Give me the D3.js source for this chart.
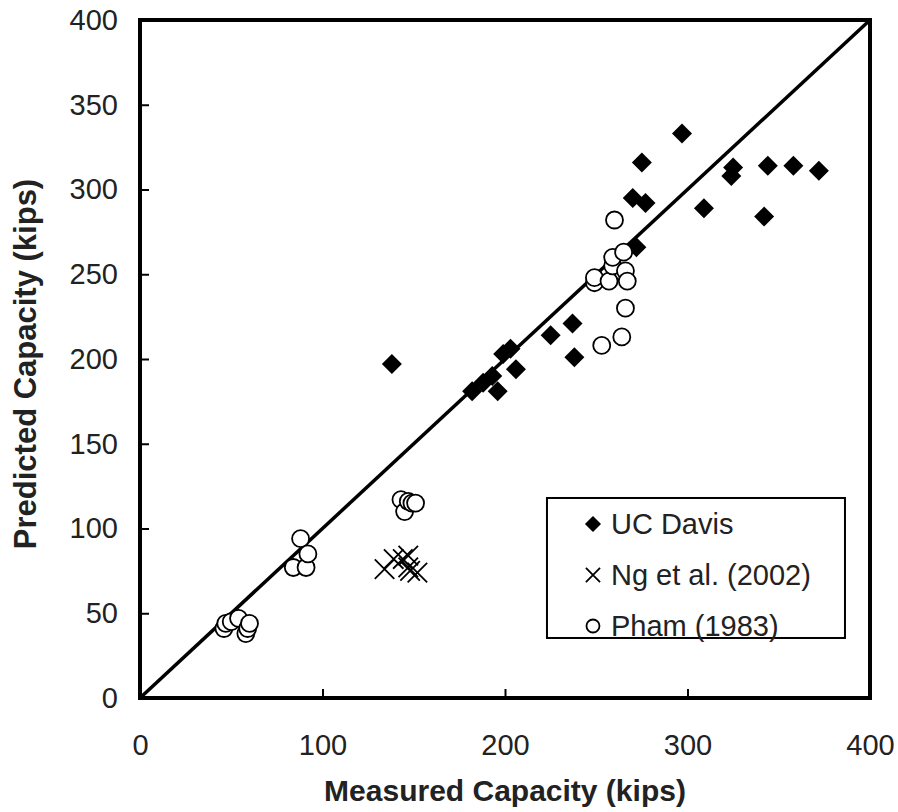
<!DOCTYPE html>
<html>
<head>
<meta charset="utf-8">
<script src="https://cdn.jsdelivr.net/npm/d3@7"></script>
<style>
  body { margin: 0; background: #fff; }
  text { font-family: "Liberation Sans", Arial, sans-serif; fill: #222; }
</style>
</head>
<body>
<div id="chart"></div>
<script>
// UC Davis specimens [measured, predicted]
const ucDavis = [
    [138, 197], [182, 181], [188, 186], [193, 190], [196, 181], [199, 203],
    [203, 206], [206, 194], [225, 214], [237, 221], [238, 201],
    [270, 295], [272, 266], [275, 316], [277, 292], [297, 333],
    [309, 289], [324, 308], [325, 313], [342, 284], [344, 314],
    [358, 314], [372, 311]
];

// Ng et al. (2002)
const ngEtAl = [
    [134, 76], [139, 82], [144, 82], [147, 84], [147, 77], [148, 75], [152, 74]
];

// Pham (1983)
const pham = [
    [46, 41], [47, 44], [50, 45], [54, 47], [58, 38], [59, 41], [60, 44],
    [84, 77], [88, 94], [91, 77], [92, 85],
    [143, 117], [145, 110], [147, 116], [149, 115], [151, 115],
    [249, 245], [249, 248], [253, 208], [257, 246], [259, 255], [259, 260],
    [260, 282], [264, 213], [265, 263], [266, 230], [266, 252], [267, 246]
];

const xTicks = [0, 100, 200, 300, 400];
const yTicks = [0, 50, 100, 150, 200, 250, 300, 350, 400];

const legendItems = [
    { label: 'UC Davis', type: 'diamond' },
    { label: 'Ng et al. (2002)', type: 'cross' },
    { label: 'Pham (1983)', type: 'circle' }
];

const margin = { top: 20, right: 28, bottom: 114, left: 140 };
const width = 898, height = 812;
const plotW = width - margin.left - margin.right;
const plotH = height - margin.top - margin.bottom;

const svg = d3.select('#chart')
    .append('svg')
    .attr('width', width)
    .attr('height', height);

const g = svg.append('g')
    .attr('transform', `translate(${margin.left},${margin.top})`);

const x = d3.scaleLinear().domain([0, 400]).range([0, plotW]);
const y = d3.scaleLinear().domain([0, 400]).range([plotH, 0]);

// X shaped symbol
const symbolX = {
    draw(ctx, size) {
        const r = Math.sqrt(size) / 2;
        ctx.moveTo(-r, -r); ctx.lineTo(r, r);
        ctx.moveTo(r, -r); ctx.lineTo(-r, r);
    }
};

// Axes (ticks inside, labels drawn outside)
g.append('g')
    .attr('class', 'x-axis')
    .attr('transform', `translate(0,${plotH})`)
    .call(d3.axisBottom(x).tickValues(xTicks).tickSizeInner(-9).tickSizeOuter(0).tickPadding(36))
    .call(a => a.select('.domain').remove())
    .call(a => a.selectAll('line').attr('stroke', '#000').attr('stroke-width', 2))
    .call(a => a.selectAll('text').style('font-size', '29px').attr('fill', '#222'));

g.append('g')
    .attr('class', 'y-axis')
    .call(d3.axisLeft(y).tickValues(yTicks).tickSizeInner(-9).tickSizeOuter(0).tickPadding(22))
    .call(a => a.select('.domain').remove())
    .call(a => a.selectAll('line').attr('stroke', '#000').attr('stroke-width', 2))
    .call(a => a.selectAll('text').style('font-size', '29px').attr('fill', '#222'));

// Frame
g.append('rect')
    .attr('x', 0).attr('y', 0)
    .attr('width', plotW).attr('height', plotH)
    .attr('fill', 'none')
    .attr('stroke', '#000')
    .attr('stroke-width', 4);

// 1:1 line
g.append('line')
    .attr('x1', x(0)).attr('y1', y(0))
    .attr('x2', x(400)).attr('y2', y(400))
    .attr('stroke', '#000')
    .attr('stroke-width', 3.5);

// UC Davis diamonds
g.selectAll('.davis')
    .data(ucDavis)
    .join('path')
    .attr('class', 'davis')
    .attr('d', d3.symbol(d3.symbolSquare, 200))
    .attr('transform', d => `translate(${x(d[0])},${y(d[1])}) rotate(45)`)
    .attr('fill', '#000');

// Pham circles
g.selectAll('.pham')
    .data(pham)
    .join('circle')
    .attr('class', 'pham')
    .attr('cx', d => x(d[0]))
    .attr('cy', d => y(d[1]))
    .attr('r', 8.5)
    .attr('fill', '#fff')
    .attr('stroke', '#000')
    .attr('stroke-width', 1.8);

// Ng et al. crosses
g.selectAll('.ng')
    .data(ngEtAl)
    .join('path')
    .attr('class', 'ng')
    .attr('d', d3.symbol(symbolX, 380))
    .attr('transform', d => `translate(${x(d[0])},${y(d[1])})`)
    .attr('fill', 'none')
    .attr('stroke', '#000')
    .attr('stroke-width', 1.8);

// Legend
const legend = g.append('g')
    .attr('transform', `translate(${x(223)},${y(118)})`);

legend.append('rect')
    .attr('width', 298).attr('height', 140)
    .attr('fill', '#fff')
    .attr('stroke', '#000')
    .attr('stroke-width', 2);

const rows = legend.selectAll('.legend-row')
    .data(legendItems)
    .join('g')
    .attr('class', 'legend-row')
    .attr('transform', (d, i) => `translate(46,${26 + i * 51})`);

rows.each(function (d) {
    const row = d3.select(this);
    if (d.type === 'diamond') {
        row.append('path')
            .attr('d', d3.symbol(d3.symbolSquare, 130))
            .attr('transform', 'rotate(45)')
            .attr('fill', '#000');
    } else if (d.type === 'cross') {
        row.append('path')
            .attr('d', d3.symbol(symbolX, 200))
            .attr('fill', 'none')
            .attr('stroke', '#000')
            .attr('stroke-width', 1.8);
    } else {
        row.append('circle')
            .attr('r', 6.5)
            .attr('fill', '#fff')
            .attr('stroke', '#000')
            .attr('stroke-width', 1.8);
    }
    row.append('text')
        .attr('x', 18)
        .attr('dy', '0.36em')
        .style('font-size', '29px')
        .text(d.label);
});

// Axis titles
svg.append('text')
    .attr('x', margin.left + plotW / 2)
    .attr('y', 801)
    .attr('text-anchor', 'middle')
    .style('font-size', '30px')
    .style('font-weight', 'bold')
    .text('Measured Capacity (kips)');

svg.append('text')
    .attr('transform', `translate(36,${margin.top + plotH / 2 + 5}) rotate(-90)`)
    .attr('text-anchor', 'middle')
    .style('font-size', '31px')
    .style('font-weight', 'bold')
    .text('Predicted Capacity (kips)');
</script>
</body>
</html>
